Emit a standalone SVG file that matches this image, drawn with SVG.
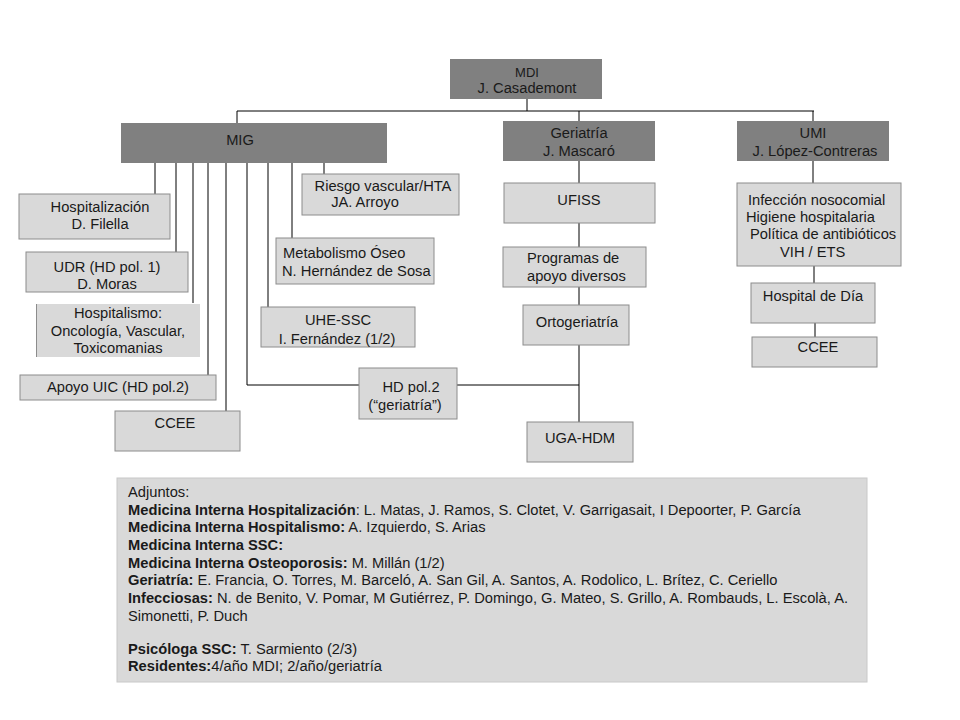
<svg xmlns="http://www.w3.org/2000/svg" width="960" height="720" viewBox="0 0 960 720">
<style>
text{font-family:"Liberation Sans",Arial,sans-serif;font-size:14.7px;fill:#1a1a1a}
.c{text-anchor:middle}
.dark{fill:#808080;stroke:none}
.light{fill:#d9d9d9;stroke:#8c8c8c;stroke-width:1}
.wire{fill:none;stroke:#000;stroke-width:1}
.b{font-weight:bold}
</style>
<rect width="960" height="720" fill="#fff"/>
<g id="connectors" class="wire">
<path d="M527 99V111M237 111H814M237 111V123M579 111V121M813 111V121"/>
<path d="M579 161V183M579 223V247M579 287V305M579 345V422M457 385H579"/>
<path d="M813 161V183M814 266V283M815 323V337"/>
<path d="M155 163V194M176 163V252M193 163V303M208 163V375M226 163V411M247 163V385H359M268 163V307M292 163V238M324 163V174"/>
</g>
<g id="mdi"><rect class="dark" x="450" y="59" width="152" height="40"/><text class="c" x="527" y="77" style="font-size:13px">MDI</text><text class="c" x="527" y="93">J. Casademont</text></g>
<g id="mig"><rect class="dark" x="121" y="123" width="266" height="40"/><text class="c" x="240" y="145">MIG</text></g>
<g id="geriatria"><rect class="dark" x="503" y="121" width="152" height="40"/><text class="c" x="579" y="138">Geriatría</text><text class="c" x="579" y="156">J. Mascaró</text></g>
<g id="umi"><rect class="dark" x="737" y="121" width="152" height="40"/><text class="c" x="813" y="138">UMI</text><text class="c" x="815" y="156">J. López-Contreras</text></g>
<g id="ufiss"><rect class="light" x="504" y="183" width="151" height="40"/><text class="c" x="579" y="205">UFISS</text></g>
<g id="programas"><rect class="light" x="503" y="247" width="143" height="40"/><text x="527" y="263">Programas de</text><text x="527" y="281">apoyo diversos</text></g>
<g id="ortogeriatria"><rect class="light" x="523" y="305" width="106" height="40"/><text class="c" x="577" y="327">Ortogeriatría</text></g>
<g id="uga"><rect class="light" x="527" y="422" width="106" height="40"/><text class="c" x="580" y="443">UGA-HDM</text></g>
<g id="infeccion"><rect class="light" x="737" y="183" width="164" height="83"/><text x="748" y="205">Infección nosocomial</text><text x="746" y="222">Higiene hospitalaria</text><text x="750" y="239">Política de antibióticos</text><text x="780" y="257">VIH / ETS</text></g>
<g id="hospital-dia"><rect class="light" x="751" y="283" width="124" height="40"/><text class="c" x="813" y="301">Hospital de Día</text></g>
<g id="ccee-umi"><rect class="light" x="752" y="337" width="125" height="30"/><text class="c" x="818" y="352">CCEE</text></g>
<g id="hospitalizacion"><rect class="light" x="19" y="194" width="151" height="45"/><text class="c" x="100" y="212">Hospitalización</text><text class="c" x="100" y="229">D. Filella</text></g>
<g id="riesgo"><rect class="light" x="302" y="174" width="157" height="41"/><text class="c" x="383" y="191">Riesgo vascular/HTA</text><text class="c" x="365" y="207">JA. Arroyo</text></g>
<g id="udr"><rect class="light" x="26" y="252" width="162" height="40"/><text class="c" x="107" y="272">UDR (HD pol. 1)</text><text class="c" x="107" y="289">D. Moras</text></g>
<g id="metabolismo"><rect class="light" x="276" y="238" width="158" height="46"/><text x="283" y="258">Metabolismo Óseo</text><text x="282" y="276">N. Hernández de Sosa</text></g>
<g id="hospitalismo"><rect x="36" y="304" width="164" height="53" fill="#d9d9d9"/><path d="M36.5 304V357" stroke="#8c8c8c"/><text class="c" x="118" y="318">Hospitalismo:</text><text class="c" x="118" y="336">Oncología, Vascular,</text><text class="c" x="118" y="353">Toxicomanias</text></g>
<g id="uhe"><rect class="light" x="261" y="307" width="154" height="40"/><text class="c" x="338" y="325">UHE-SSC</text><text class="c" x="337" y="344">I. Fernández (1/2)</text></g>
<g id="apoyo-uic"><rect class="light" x="20" y="375" width="196" height="25"/><text class="c" x="118" y="392">Apoyo UIC (HD pol.2)</text></g>
<g id="ccee-mig"><rect class="light" x="115" y="411" width="125" height="40"/><text class="c" x="175" y="428">CCEE</text></g>
<g id="hd-pol2"><rect class="light" x="359" y="368" width="98" height="51"/><text class="c" x="411" y="392">HD pol.2</text><text class="c" x="405" y="410">(“geriatría”)</text></g>
<g id="adjuntos">
<rect x="117" y="478" width="750" height="204" fill="#d9d9d9" stroke="#c8c8c8"/>
<text x="128" y="497">Adjuntos:</text>
<text x="128" y="515"><tspan class="b">Medicina Interna Hospitalización</tspan>: L. Matas, J. Ramos, S. Clotet, V. Garrigasait, I Depoorter, P. García</text>
<text x="128" y="532"><tspan class="b">Medicina Interna Hospitalismo:</tspan> A. Izquierdo, S. Arias</text>
<text x="128" y="550"><tspan class="b">Medicina Interna SSC:</tspan></text>
<text x="128" y="568"><tspan class="b">Medicina Interna Osteoporosis:</tspan> M. Millán  (1/2)</text>
<text x="128" y="585"><tspan class="b">Geriatría:</tspan> E. Francia, O. Torres, M. Barceló, A. San Gil, A. Santos, A. Rodolico, L. Brítez, C. Ceriello</text>
<text x="128" y="603"><tspan class="b">Infecciosas:</tspan> N. de Benito, V. Pomar, M Gutiérrez, P. Domingo, G. Mateo, S. Grillo, A. Rombauds, L. Escolà, A.</text>
<text x="128" y="621">Simonetti, P. Duch</text>
<text x="128" y="654"><tspan class="b">Psicóloga SSC:</tspan> T. Sarmiento (2/3)</text>
<text x="128" y="671"><tspan class="b">Residentes:</tspan>4/año MDI;  2/año/geriatría</text>
</g>
</svg>
